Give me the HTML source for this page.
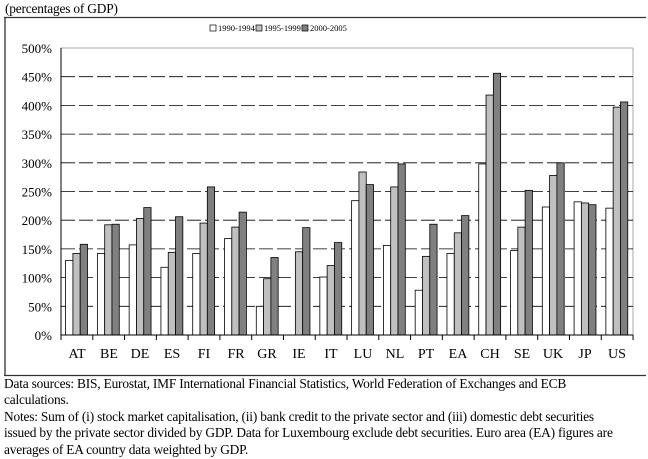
<!DOCTYPE html>
<html><head><meta charset="utf-8"><style>
body{margin:0;width:648px;height:459px;background:#fff;overflow:hidden;font-family:"Liberation Serif",serif;}
.t{position:absolute;left:4px;font-size:13.4px;color:#000;line-height:16.4px;white-space:nowrap;letter-spacing:-0.2px}
</style></head><body>
<div class="t" style="top:1px;left:5px">(percentages of GDP)</div>
<svg width="648" height="459" style="position:absolute;left:0;top:0" xmlns="http://www.w3.org/2000/svg" font-family="Liberation Serif, serif">
<line x1="4" y1="17.5" x2="646" y2="17.5" stroke="#333" stroke-width="1.3"/>
<line x1="5" y1="17" x2="5" y2="375" stroke="#333" stroke-width="1.3"/>
<line x1="4" y1="375.5" x2="646" y2="375.5" stroke="#333" stroke-width="1.3"/>
<rect x="61" y="48" width="572" height="287" fill="#fff" stroke="#aaa" stroke-width="1"/>
<g id="grid" stroke="#000" stroke-width="0.8" stroke-dasharray="14,4"></g>
<g id="bars" stroke="#000" stroke-width="0.8"></g>
<line x1="61" y1="48" x2="61" y2="335" stroke="#000"/>
<line x1="61" y1="335" x2="633" y2="335" stroke="#000"/>
<g id="ticks" stroke="#000"></g>
<g font-size="13" text-anchor="end">
<text x="52" y="53">500%</text>
<text x="52" y="81.7">450%</text>
<text x="52" y="110.4">400%</text>
<text x="52" y="139.1">350%</text>
<text x="52" y="167.8">300%</text>
<text x="52" y="196.5">250%</text>
<text x="52" y="225.2">200%</text>
<text x="52" y="253.9">150%</text>
<text x="52" y="282.6">100%</text>
<text x="52" y="311.3">50%</text>
<text x="52" y="340">0%</text>
</g>
<g font-size="14" text-anchor="middle">
<text x="77" y="358">AT</text><text x="109" y="358">BE</text><text x="140" y="358">DE</text><text x="172" y="358">ES</text><text x="204" y="358">FI</text><text x="236" y="358">FR</text><text x="267" y="358">GR</text><text x="299" y="358">IE</text><text x="331" y="358">IT</text><text x="363" y="358">LU</text><text x="395" y="358">NL</text><text x="426" y="358">PT</text><text x="458" y="358">EA</text><text x="490" y="358">CH</text><text x="522" y="358">SE</text><text x="553" y="358">UK</text><text x="585" y="358">JP</text><text x="617" y="358">US</text>
</g>
<g font-size="8.5">
<rect x="210" y="25" width="6" height="6" fill="#fff" stroke="#000" stroke-width="0.7"/><text x="218" y="31">1990-1994</text>
<rect x="256" y="25" width="6" height="6" fill="#c0c0c0" stroke="#000" stroke-width="0.7"/><text x="264" y="31">1995-1999</text>
<rect x="302" y="25" width="6" height="6" fill="#808080" stroke="#000" stroke-width="0.7"/><text x="310" y="31">2000-2005</text>
</g>
</svg>
<script>
var NS="http://www.w3.org/2000/svg";
var d=[[130,142,158],[142,192,193],[157,203,222],[118,144,206],[142,195,258],[168,188,214],[50,98,135],[0,145,187],[101,121,161],[234,284,262],[156,258,298],[78,137,193],[142,178,208],[298,418,456],[147,188,252],[223,278,300],[232,230,227],[221,397,406]];
var cols=["#fff","#c0c0c0","#808080"];
var x0=61,w=31.78,y0=335,k=0.574;
function el(g,t,a){var e=document.createElementNS(NS,t);for(var q in a)e.setAttribute(q,a[q]);g.appendChild(e);return e;}
var grid=document.getElementById("grid"),bars=document.getElementById("bars"),ticks=document.getElementById("ticks");
for(var v=50;v<=450;v+=50){el(grid,"line",{x1:x0,x2:633,y1:y0-v*k,y2:y0-v*k});}
for(var i=0;i<d.length;i++){
 for(var j=0;j<3;j++){var h=d[i][j]*k;if(h<=0)continue;
  el(bars,"rect",{x:x0+i*w+4.6+j*7.3,y:y0-h,width:7.3,height:h,fill:cols[j]});}
 el(ticks,"line",{x1:x0+(i+1)*w,x2:x0+(i+1)*w,y1:y0,y2:y0+5});
}
el(ticks,"line",{x1:x0,x2:x0,y1:y0,y2:y0+5});
</script>
<div class="t" style="top:376px">Data sources: BIS, Eurostat, IMF International Financial Statistics, World Federation of Exchanges and ECB<br>calculations.<br>Notes: Sum of (i) stock market capitalisation, (ii) bank credit to the private sector and (iii) domestic debt securities<br>issued by the private sector divided by GDP. Data for Luxembourg exclude debt securities. Euro area (EA) figures are<br>averages of EA country data weighted by GDP.</div>
</body></html>
